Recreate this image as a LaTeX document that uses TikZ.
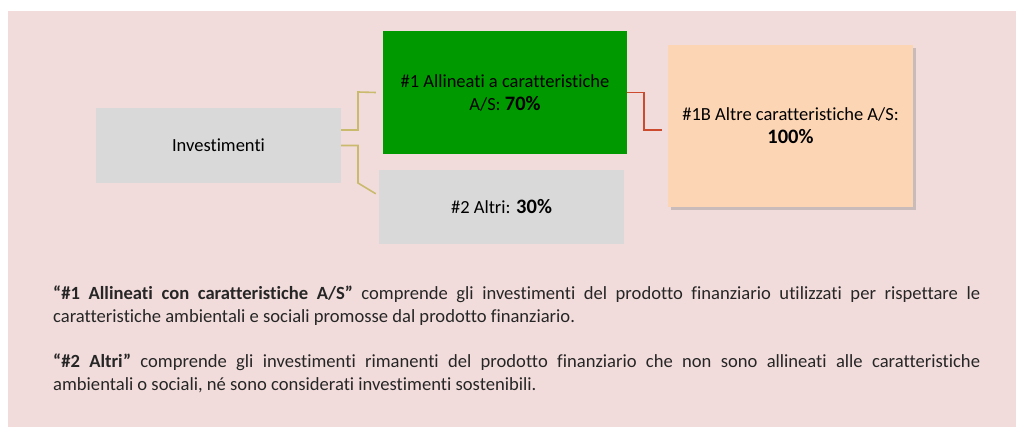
\documentclass[tikz,border=0pt]{standalone}
\usepackage{fontspec}
\setmainfont{Carlito}[Ligatures=NoCommon]
\usetikzlibrary{shadows}
\definecolor{panelpink}{HTML}{F2DCDB}
\definecolor{boxgray}{HTML}{D9D9D9}
\definecolor{boxgreen}{HTML}{009900}
\definecolor{boxpeach}{HTML}{FCD5B4}
\definecolor{linkolive}{HTML}{C9BA6E}
\definecolor{linkred}{HTML}{CC4A2E}
\definecolor{bodytext}{HTML}{262626}
\newcommand{\pctval}[1]{{\fontsize{20.5}{23}\selectfont\bfseries #1}}
\begin{document}
\begin{tikzpicture}[x=1pt, y=-1pt,
    box/.style={rectangle, inner sep=0pt, align=center, text=black,
        font=\fontsize{18.5}{23}\selectfont},
    linkA/.style={linkolive, line width=1.6pt},
    linkB/.style={linkred, line width=1.6pt}]
    \useasboundingbox (0,0) rectangle (1016,430);
    \fill[white] (0,0) rectangle (1016,430);
    \fill[panelpink] (8,11) rectangle (1016,427);
    % boxes
    \node[box, fill=boxgray, minimum width=245pt, minimum height=75pt] (inv) at (218.5,145.5) {Investimenti};
    \node[box, fill=boxgreen, minimum width=244pt, minimum height=123pt] (allin) at (505,92.5) {\#1 Allineati a caratteristiche\\A/S: \pctval{70\%}};
    \node[box, fill=boxgray, minimum width=245pt, minimum height=74pt] (altri) at (501.5,207) {\#2 Altri: \pctval{30\%}};
    \node[box, fill=boxpeach, minimum width=245pt, minimum height=162pt,
        drop shadow={shadow xshift=2.5pt, shadow yshift=-3pt, opacity=0.35, fill=black!50}] (altre) at (790.5,126) {\#1B Altre caratteristiche A/S:\\\pctval{100\%}};
    % connectors
    \coordinate (endA) at ([xshift=-7pt]allin.west);
    \coordinate (endB) at ([xshift=-3pt, yshift=-24pt]altri.north west);
    \coordinate (endC) at ([xshift=-6pt, yshift=-4pt]altre.west);
    \draw[linkA] ([yshift=15.5pt]inv.east) -| (358,92) -- (endA);
    \draw[linkA] (inv.east) -| (358,183) -- (endB);
    \draw[linkB] (allin.east) -| (644,130) -- (endC);
    % notes
    \node[anchor=north west, inner sep=0pt, text width=927pt, align=justify, text=bodytext,
        font=\fontsize{18.6}{23}\selectfont] (notes) at (53,286)
        {\textbf{“\#1 Allineati con caratteristiche A/S”} comprende gli investimenti del prodotto finanziario utilizzati per rispettare le\linebreak caratteristiche ambientali e sociali promosse dal prodotto finanziario.\par\vspace{22pt}
        \textbf{“\#2 Altri”} comprende gli investimenti rimanenti del prodotto finanziario che non sono allineati alle caratteristiche\linebreak ambientali o sociali, né sono considerati investimenti sostenibili.};
\end{tikzpicture}
\end{document}
